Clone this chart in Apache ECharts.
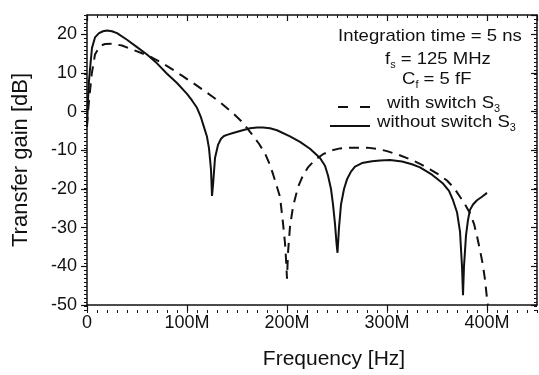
<!DOCTYPE html>
<html>
<head>
<meta charset="utf-8">
<script src="https://cdn.jsdelivr.net/npm/echarts@6/dist/echarts.min.js"></script>
<style>
  html, body { margin: 0; padding: 0; background: #fff; }
  #chart { width: 539px; height: 375px; }
</style>
</head>
<body>
<div id="chart"></div>
<script>
// frequency in MHz, gain in dB
const xTicks = [0, 100, 200, 300, 400]
const yTicks = [-50, -40, -30, -20, -10, 0, 10, 20]

const withoutFreq = [0, 0.5, 1, 2, 3, 5, 8, 12, 16, 20, 25, 30, 40, 50, 60, 70, 80, 90, 100, 105, 110, 114, 117, 120, 122, 124, 125, 126, 128, 131, 134, 137, 140, 146, 153, 163, 170, 176, 183, 190, 203, 213, 223, 233, 238, 241, 244, 246, 248, 249.5, 250.5, 252, 254, 257, 260, 264, 268, 275, 285, 293, 303, 315, 325, 333, 345, 356, 362, 366, 370, 373, 375, 376, 377, 379, 381, 383, 386, 390, 395, 400]
const withoutGain = [-3, -1, 3, 8, 11, 16.5, 19.2, 20.3, 20.8, 21, 20.8, 20.3, 18.6, 16.7, 14.8, 12.5, 9.8, 7.4, 4.6, 2.9, 1, -1.5, -4, -6.5, -9.5, -15, -21.8, -19, -12, -8.6, -7, -6.3, -6, -5.5, -5, -4.3, -4.1, -4.1, -4.3, -4.8, -6.4, -7.8, -9.6, -12, -14, -16.5, -20, -24, -29, -34, -36.5, -30, -24, -20, -17.5, -15.5, -14.2, -13.3, -12.8, -12.6, -12.5, -12.9, -13.6, -14.4, -16.3, -18.6, -20.5, -22.9, -26, -31, -40, -47.5, -40, -32, -28, -25.4, -24, -22.9, -22, -21]

const withFreq = [0, 1, 2.5, 4.7, 8, 13, 18, 25, 35, 45, 55, 65, 75, 85, 95, 105, 115, 126, 136, 146, 156, 165, 172, 178, 182, 186, 190, 193, 196, 198, 199, 200, 201, 203, 206, 211, 216, 221, 228, 236, 245, 253, 265, 280, 290, 300, 312, 323, 333, 343, 352, 360, 367, 373, 378, 383, 387, 390, 393, 396, 398, 400, 401]
const withGain = [-4, 0, 4, 9.7, 14.8, 17, 17.5, 17.6, 17.1, 16.1, 15.1, 14, 12.6, 11, 9.3, 7.6, 5.8, 3.8, 1.8, -0.4, -2.9, -5.9, -8.3, -10.8, -13.2, -16.1, -19.5, -22, -28.8, -34, -38, -43.2, -36.5, -29.7, -24.6, -19.5, -16.5, -14.4, -12.5, -11, -10, -9.5, -9.3, -9.3, -9.6, -10.2, -11.2, -12.3, -13.5, -14.9, -16.3, -17.8, -19.7, -22, -24, -26.3, -29, -32.2, -35.8, -39.8, -43.5, -48.3, -50]

const ink = '#111'
const font = 'Liberation Sans, Arial, sans-serif'

const chart = echarts.init(document.getElementById('chart'))

const gridBox = { left: 87, right: 2, top: 15, bottom: 65 }
const baseX = { type: 'value', min: 0, max: 450, splitLine: { show: false } }
const baseY = { type: 'value', min: -50, max: 25, splitLine: { show: false } }
const frame = { onZero: false, lineStyle: { color: ink, width: 1.5 } }
const majorTick = (inside) => ({ inside, length: 6, lineStyle: { color: ink, width: 1.2 } })
const minorTick = (inside) => ({ inside, length: 3, lineStyle: { color: ink, width: 1 } })
const noLabel = { show: false }
const noLine = { show: false, onZero: false }
const sub = (t) => ({
  text: t, fill: ink,
  rich: {
    n: { fontSize: 17, fontFamily: font, fill: ink },
    s: { fontSize: 10, fontFamily: font, fill: ink, padding: [12, 0, 0, 0] }
  }
})
// the legend lettering in the original is a little wider than Liberation Sans
const stretch = 1.09

const option = {
  animation: false,
  // grid 0 carries the major ticks, grid 1 (same box) the minor ticks
  grid: [gridBox, gridBox],
  xAxis: [
    {
      ...baseX, gridIndex: 0, position: 'bottom', interval: 100,
      name: 'Frequency [Hz]', nameLocation: 'middle', nameGap: 44,
      nameTextStyle: { color: ink, fontSize: 21, fontFamily: font, padding: [0, 0, 0, 44] },
      axisLine: frame, axisTick: majorTick(false),
      axisLabel: {
        color: ink, fontSize: 18, fontFamily: font, margin: 9, showMaxLabel: false,
        formatter: v => (xTicks.includes(v) ? (v === 0 ? '0' : v + 'M') : '')
      }
    },
    { ...baseX, gridIndex: 0, position: 'top', interval: 100, axisLine: frame, axisTick: majorTick(true), axisLabel: noLabel },
    { ...baseX, gridIndex: 1, position: 'bottom', interval: 10, axisLine: noLine, axisTick: minorTick(false), axisLabel: noLabel },
    { ...baseX, gridIndex: 1, position: 'top', interval: 10, axisLine: noLine, axisTick: minorTick(true), axisLabel: noLabel }
  ],
  yAxis: [
    {
      ...baseY, gridIndex: 0, position: 'left', interval: 10,
      name: 'Transfer gain [dB]', nameLocation: 'middle', nameGap: 55,
      nameTextStyle: { color: ink, fontSize: 22, fontFamily: font },
      axisLine: frame, axisTick: majorTick(false),
      axisLabel: {
        color: ink, fontSize: 18, fontFamily: font, margin: 10, showMaxLabel: false,
        formatter: v => (yTicks.includes(v) ? String(v) : '')
      }
    },
    { ...baseY, gridIndex: 0, position: 'right', interval: 10, axisLine: frame, axisTick: majorTick(true), axisLabel: noLabel },
    { ...baseY, gridIndex: 1, position: 'left', interval: 1, axisLine: noLine, axisTick: minorTick(false), axisLabel: noLabel },
    { ...baseY, gridIndex: 1, position: 'right', interval: 1, axisLine: noLine, axisTick: minorTick(true), axisLabel: noLabel }
  ],
  series: [
    {
      name: 'with switch S3',
      type: 'line',
      xAxisIndex: 0, yAxisIndex: 0,
      showSymbol: false,
      data: withFreq.map((f, i) => [f, withGain[i]]),
      lineStyle: { color: ink, width: 2, type: [10, 7] }
    },
    {
      name: 'without switch S3',
      type: 'line',
      xAxisIndex: 0, yAxisIndex: 0,
      showSymbol: false,
      data: withoutFreq.map((f, i) => [f, withoutGain[i]]),
      lineStyle: { color: ink, width: 2 }
    }
  ],
  graphic: [
    { type: 'text', x: 338, y: 28, scaleX: stretch, style: { text: 'Integration time = 5 ns', fill: ink, font: '17px ' + font } },
    { type: 'text', x: 385, y: 48, scaleX: stretch, style: sub('{n|f}{s|s}{n| = 125 MHz}') },
    { type: 'text', x: 402, y: 68, scaleX: stretch, style: sub('{n|C}{s|f}{n| = 5 fF}') },
    {
      type: 'line', shape: { x1: 338, y1: 107, x2: 370, y2: 107 },
      style: { stroke: ink, lineWidth: 2, lineDash: [10, 12] }
    },
    { type: 'text', x: 387, y: 92, scaleX: stretch, style: sub('{n|with switch S}{s|3}') },
    {
      type: 'line', shape: { x1: 330, y1: 126, x2: 370, y2: 126 },
      style: { stroke: ink, lineWidth: 2 }
    },
    { type: 'text', x: 377, y: 111, scaleX: stretch, style: sub('{n|without switch S}{s|3}') }
  ]
}

chart.setOption(option)

window.addEventListener('resize', () => chart.resize())
</script>
</body>
</html>
